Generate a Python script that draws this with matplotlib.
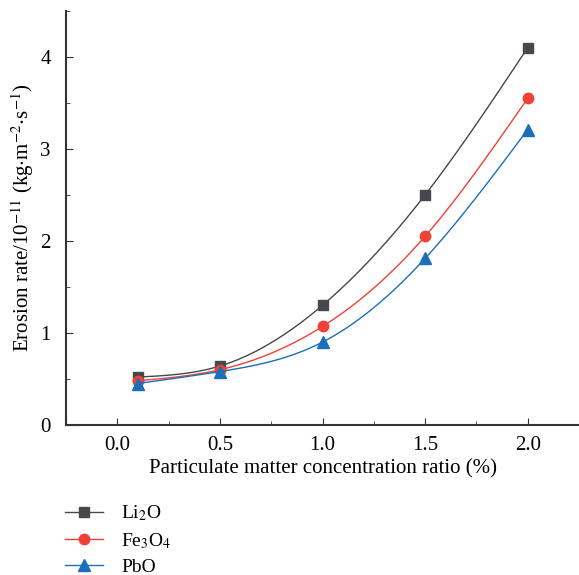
import numpy as np
import matplotlib.pyplot as plt
from matplotlib.ticker import MultipleLocator

plt.rcParams.update({
    "font.family": "Liberation Serif",
    "mathtext.fontset": "stix",
    "font.size": 15,
    "lines.linewidth": 1,
})

conc = [0.1, 0.5, 1.0, 1.5, 2.0]
li2o = [0.52, 0.64, 1.30, 2.50, 4.10]
fe3o4 = [0.48, 0.60, 1.07, 2.05, 3.55]
pbo = [0.45, 0.58, 0.90, 1.81, 3.21]


def natural_spline(x, y, n=200):
    # natural cubic spline through the measured points
    x = np.asarray(x, float)
    y = np.asarray(y, float)
    k = len(x)
    h = np.diff(x)
    A = np.zeros((k, k))
    b = np.zeros(k)
    A[0, 0] = A[-1, -1] = 1
    for i in range(1, k - 1):
        A[i, i - 1] = h[i - 1]
        A[i, i] = 2 * (h[i - 1] + h[i])
        A[i, i + 1] = h[i]
        b[i] = 6 * ((y[i + 1] - y[i]) / h[i] - (y[i] - y[i - 1]) / h[i - 1])
    M = np.linalg.solve(A, b)
    xs = np.linspace(x[0], x[-1], n)
    j = np.clip(np.searchsorted(x, xs) - 1, 0, k - 2)
    t0 = x[j + 1] - xs
    t1 = xs - x[j]
    hj = h[j]
    ys = (M[j] * t0**3 / (6 * hj) + M[j + 1] * t1**3 / (6 * hj)
          + (y[j] / hj - M[j] * hj / 6) * t0 + (y[j + 1] / hj - M[j + 1] * hj / 6) * t1)
    return xs, ys


fig = plt.figure(figsize=(5.79, 5.75), dpi=100)
ax = fig.add_axes([0.114, 0.261, 0.886, 0.72])

series = [(li2o, "#45484c", "s", 7, "Li$_2$O"),
          (fe3o4, "#ef4136", "o", 7.5, "Fe$_3$O$_4$"),
          (pbo, "#1a6fba", "^", 8, "PbO")]
for vals, col, mk, ms, lab in series:
    xs, ys = natural_spline(conc, vals)
    ax.plot(xs, ys, color=col, lw=1)
    ax.plot(conc, vals, mk, color=col, ms=ms, ls="none")
    ax.plot([], [], color=col, marker=mk, ms=ms, label=lab)

ax.set_xlim(-0.25, 2.25)
ax.set_ylim(0, 4.5)
ax.xaxis.set_major_locator(MultipleLocator(0.5))
ax.xaxis.set_minor_locator(MultipleLocator(0.25))
ax.yaxis.set_major_locator(MultipleLocator(1))
ax.yaxis.set_minor_locator(MultipleLocator(0.5))
ax.xaxis.set_major_formatter(plt.FuncFormatter(lambda v, p: f"{v:.1f}"))
ax.tick_params(which="both", direction="in", color="#333333", labelsize=15)
ax.tick_params(which="major", length=5)
ax.tick_params(which="minor", length=3)
ax.tick_params(axis="x", pad=8)
ax.tick_params(axis="y", pad=11)
for s in ["top", "right"]:
    ax.spines[s].set_visible(False)
for s in ["left", "bottom"]:
    ax.spines[s].set_color("#333333")
    ax.spines[s].set_linewidth(1.5)

ax.set_xlabel("Particulate matter concentration ratio (%)", labelpad=3)
ax.set_ylabel("Erosion rate/10$^{-11}$ (kg$\\cdot$m$^{-2}$$\\cdot$s$^{-1}$)", labelpad=3)

fig.legend(loc="upper left", frameon=False, fontsize=14,
           handlelength=2.0, handletextpad=0.9, labelspacing=0.4, borderaxespad=0,
           bbox_to_anchor=(0.098, 0.138), bbox_transform=fig.transFigure)

fig.savefig("out.png")
